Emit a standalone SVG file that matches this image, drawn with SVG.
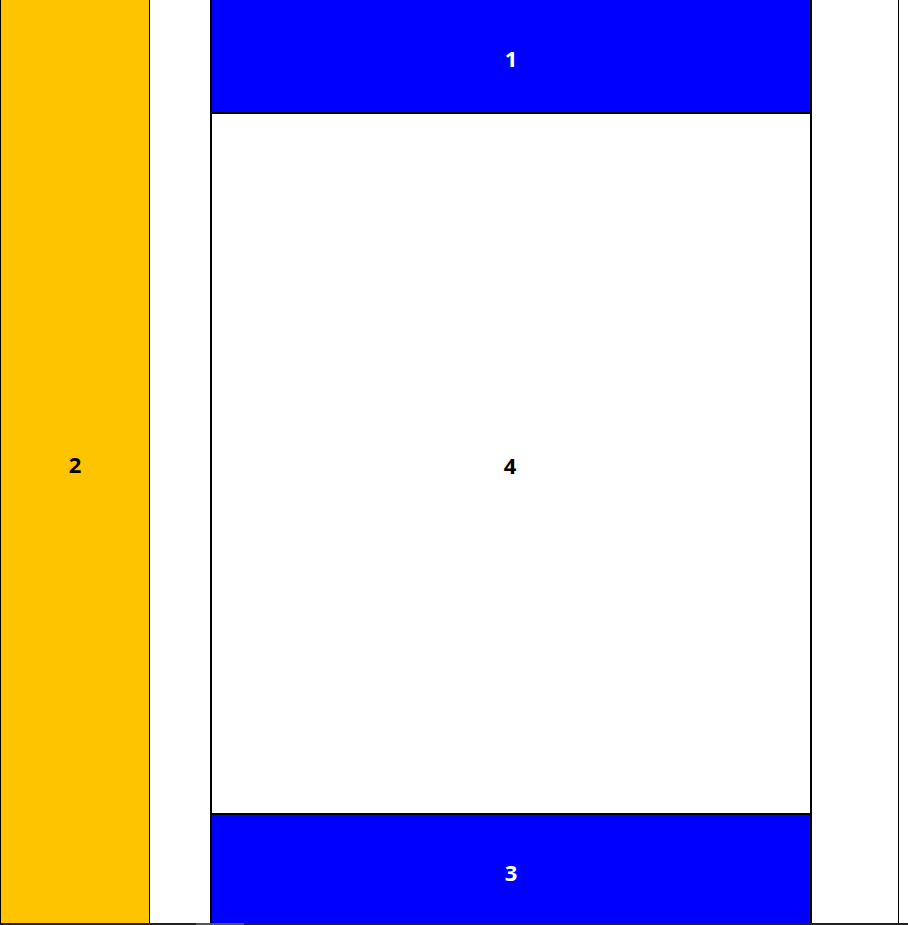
<svg xmlns="http://www.w3.org/2000/svg" width="908" height="925" viewBox="0 0 908 925">
<style>
text{font-family:"Open Sans","Liberation Sans",sans-serif;font-weight:700;text-anchor:middle}
.w{fill:#fff}.k{fill:#000}
</style>
<rect x="0" y="0" width="908" height="925" fill="#fff"/>
<g id="node2">
<rect x="0.5" y="-1" width="149" height="925" fill="#ffc400" stroke="#000" stroke-width="1"/>
<text class="k" x="75" y="473" font-size="22">2</text>
</g>
<g id="node4">
<rect x="211" y="113" width="600" height="701" fill="#fff" stroke="#000" stroke-width="2"/>
<text class="k" x="510" y="474" font-size="22">4</text>
</g>
<g id="node1">
<rect x="211" y="-2" width="600" height="115" fill="#0000ff" stroke="#000" stroke-width="2"/>
<text class="w" x="511" y="67" font-size="22">1</text>
</g>
<g id="node3">
<rect x="211" y="814" width="600" height="115" fill="#0000ff" stroke="#000" stroke-width="2"/>
<text class="w" x="511" y="881" font-size="22">3</text>
</g>
<g id="connectors">
<line x1="898.5" y1="0" x2="898.5" y2="923" stroke="#000" stroke-width="1"/>
</g>
<rect x="0" y="923" width="908" height="2" fill="#222"/>
<rect x="196" y="923" width="48" height="2" fill="#555"/>
</svg>
